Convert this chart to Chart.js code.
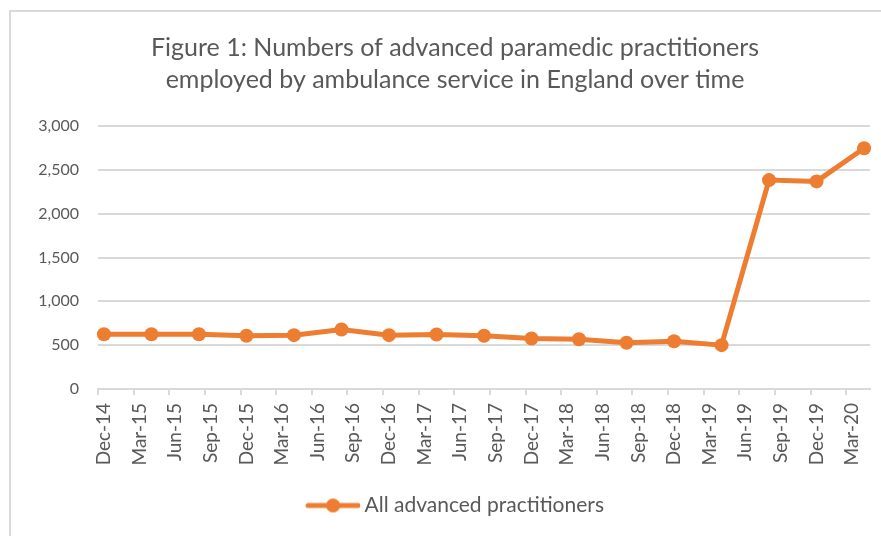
<!DOCTYPE html>
<html>
<head>
<meta charset="utf-8">
<script src="https://cdn.jsdelivr.net/npm/chart.js@4.4.1/dist/chart.umd.min.js"></script>
<style>
  html, body { margin: 0; padding: 0; background: #fff; overflow: hidden; }
  #wrap { position: relative; width: 881px; height: 536px; overflow: hidden; }
  #frame { position: absolute; left: 9px; top: 10px; width: 900px; height: 600px; border: 2px solid #d9d9d9; }
  #chart { position: absolute; left: 0; top: 0; }
</style>
</head>
<body>
<div id="wrap">
  <div id="frame"></div>
  <canvas id="chart" width="910" height="536"></canvas>
</div>
<script>
// monthly categories on the axis (Excel text axis, labelled every 3rd month)
const months = [
    'Dec-14', 'Jan-15', 'Feb-15', 'Mar-15', 'Apr-15', 'May-15', 'Jun-15', 'Jul-15', 'Aug-15', 'Sep-15', 'Oct-15', 'Nov-15',
    'Dec-15', 'Jan-16', 'Feb-16', 'Mar-16', 'Apr-16', 'May-16', 'Jun-16', 'Jul-16', 'Aug-16', 'Sep-16', 'Oct-16', 'Nov-16',
    'Dec-16', 'Jan-17', 'Feb-17', 'Mar-17', 'Apr-17', 'May-17', 'Jun-17', 'Jul-17', 'Aug-17', 'Sep-17', 'Oct-17', 'Nov-17',
    'Dec-17', 'Jan-18', 'Feb-18', 'Mar-18', 'Apr-18', 'May-18', 'Jun-18', 'Jul-18', 'Aug-18', 'Sep-18', 'Oct-18', 'Nov-18',
    'Dec-18', 'Jan-19', 'Feb-19', 'Mar-19', 'Apr-19', 'May-19', 'Jun-19', 'Jul-19', 'Aug-19', 'Sep-19', 'Oct-19', 'Nov-19',
    'Dec-19', 'Jan-20', 'Feb-20', 'Mar-20', 'Apr-20'
];

// months that have a figure
const pointMonths = [
    'Dec-14', 'Apr-15', 'Aug-15', 'Dec-15', 'Apr-16', 'Aug-16', 'Dec-16', 'Apr-17', 'Aug-17',
    'Dec-17', 'Apr-18', 'Aug-18', 'Dec-18', 'Apr-19', 'Aug-19', 'Dec-19', 'Apr-20'
];
const practitioners = [625, 625, 625, 607, 614, 678, 614, 622, 607, 576, 568, 527, 545, 500, 2383, 2368, 2747];

const yTicks = [0, 500, 1000, 1500, 2000, 2500, 3000];

const ORANGE = '#ED7D31';
const GREY_TEXT = '#595959';
const GRID = '#d9d9d9';
const FONT = 'Lato, "Open Sans", sans-serif';

// legend marker: a short line with a dot in the middle, like Excel
const marker = document.createElement('canvas');
marker.width = 60;
marker.height = 16;
const mctx = marker.getContext('2d');
mctx.strokeStyle = ORANGE;
mctx.lineWidth = 5;
mctx.lineCap = 'round';
mctx.beginPath();
mctx.moveTo(8, 8);
mctx.lineTo(58, 8);
mctx.stroke();
mctx.fillStyle = ORANGE;
mctx.beginPath();
mctx.arc(33, 8, 7, 0, Math.PI * 2);
mctx.fill();

const ctx = document.getElementById('chart').getContext('2d');

// the original chart is wider than the crop, so the canvas runs past the right edge
new Chart(ctx, {
    type: 'line',
    data: {
        labels: months,
        datasets: [{
            label: 'All advanced practitioners',
            data: pointMonths.map((m, i) => ({ x: m, y: practitioners[i] })),
            borderColor: ORANGE,
            backgroundColor: ORANGE,
            borderWidth: 5,
            pointRadius: 7,
            pointHoverRadius: 7,
            pointBorderWidth: 0,
            tension: 0,
            spanGaps: true
        }]
    },
    options: {
        responsive: false,
        animation: false,
        layout: { padding: { left: 10, right: 10, top: 0, bottom: 10 } },
        plugins: {
            title: {
                display: true,
                text: ['Figure 1: Numbers of advanced paramedic practitioners',
                       'employed by ambulance service in England over time'],
                color: GREY_TEXT,
                font: { family: FONT, size: 25, weight: 'normal', lineHeight: 1.28 },
                padding: { top: 32, bottom: 30 }
            },
            legend: {
                position: 'bottom',
                labels: {
                    color: GREY_TEXT,
                    font: { family: FONT, size: 21 },
                    usePointStyle: true,
                    pointStyleWidth: 48,
                    padding: 12,
                    generateLabels: chart => chart.data.datasets.map((ds, i) => ({
                        text: ds.label,
                        fontColor: GREY_TEXT,
                        pointStyle: marker,
                        datasetIndex: i,
                        lineWidth: 0,
                        strokeStyle: 'transparent',
                        fillStyle: ORANGE
                    }))
                }
            },
            tooltip: { enabled: false }
        },
        scales: {
            x: {
                type: 'category',
                offset: true,
                afterFit: scale => {
                    scale.height = 94;
                    scale.paddingLeft = 0;
                    scale.paddingRight = 40;
                },
                border: { display: true, color: GRID, width: 2 },
                grid: {
                    offset: true,
                    drawOnChartArea: false,
                    drawTicks: true,
                    tickLength: 6,
                    lineWidth: 2,
                    color: c => (c.index % 3 === 0 ? GRID : 'rgba(0,0,0,0)')
                },
                ticks: {
                    autoSkip: false,
                    minRotation: 90,
                    maxRotation: 90,
                    padding: 8,
                    color: GREY_TEXT,
                    font: { family: FONT, size: 19 },
                    callback: (v, i) => (i % 3 === 0 ? months[i] : '')
                }
            },
            y: {
                min: 0,
                max: 3000,
                afterBuildTicks: scale => { scale.ticks = yTicks.map(v => ({ value: v })); },
                afterFit: scale => { scale.width = 88; },
                border: { display: false },
                grid: { color: GRID, lineWidth: 2, drawTicks: false },
                ticks: {
                    padding: 19,
                    color: GREY_TEXT,
                    font: { family: FONT, size: 16 },
                    callback: v => v.toLocaleString('en-US')
                }
            }
        }
    }
});
</script>
</body>
</html>
